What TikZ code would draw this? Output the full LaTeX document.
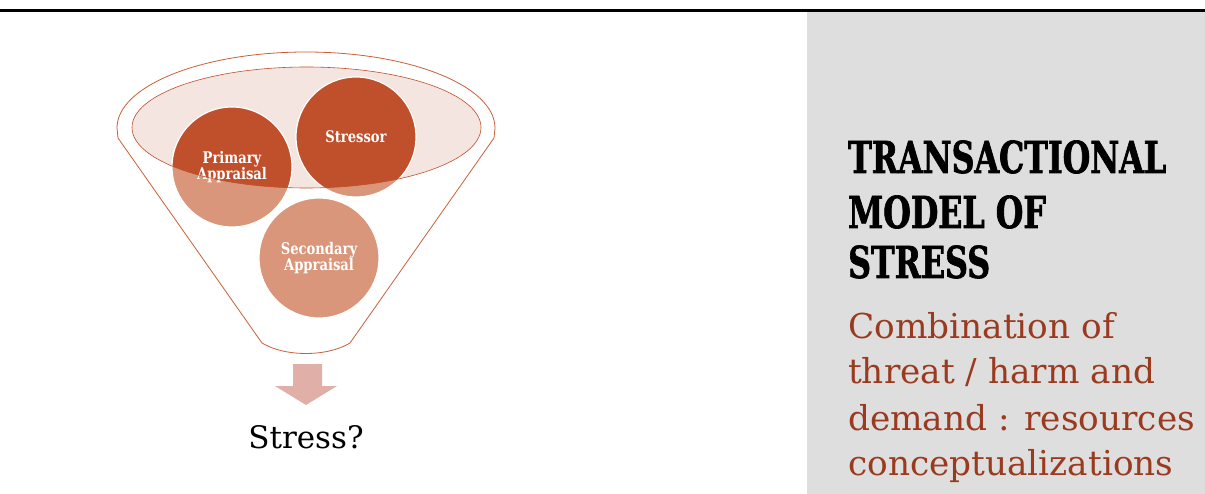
\documentclass[tikz,border=0pt]{standalone}
\usepackage{fontspec}
\setmainfont{DejaVu Serif}
\newfontfamily\titlefont[FakeStretch=0.72,FakeBold=1.5]{DejaVu Serif Bold}
\newfontfamily\bubblefont[FakeStretch=0.82]{DejaVu Serif Bold}
\usetikzlibrary{positioning,calc}
\definecolor{stressdark}{RGB}{192,80,43}
\definecolor{stresslight}{RGB}{217,150,122}
\definecolor{cupfill}{RGB}{245,229,224}
\definecolor{funnelred}{RGB}{200,96,58}
\definecolor{arrowpink}{RGB}{224,176,168}
\definecolor{panelgrey}{RGB}{222,222,222}
\definecolor{bodyred}{RGB}{154,59,31}
\tikzset{
    bubble/.style = {circle, fill=stresslight, draw=white, line width=1.2pt,
        minimum size=120pt, inner sep=0pt, text=white, align=center,
        font=\bubblefont\fontsize{16}{14}\selectfont,
        path picture={\fill[stressdark] (cup) ellipse [x radius=174.5, y radius=60.5];}},
    funnelline/.style = {draw=funnelred, line width=0.8pt},
    titleline/.style = {anchor=base west, inner sep=0pt, font=\titlefont\fontsize{44}{52}\selectfont},
    bodyline/.style = {anchor=base west, inner sep=0pt, text=bodyred, font=\fontsize{34.3}{46}\selectfont}
}
\begin{document}
\begin{tikzpicture}[x=1pt,y=-1pt]
    \useasboundingbox (0,0) rectangle (1205,494);
    \fill[white] (0,0) rectangle (1205,494);
    \draw[line width=3pt] (0,10.5) -- (1205,10.5);
    \fill[panelgrey] (807,12) rectangle (1205,494);
    % funnel
    \draw[funnelline] (118,138) -- (262,343)
        .. controls (285,357) and (327,357) .. (350,343)
        -- (494,138) -- (495,128)
        arc [start angle=0, end angle=-180, x radius=189, y radius=76] -- cycle;
    \coordinate (cup) at (306.5,127.5);
    \fill[cupfill] (cup) ellipse [x radius=174.5, y radius=60.5];
    \node[bubble] (prim) at (232,167) {Primary\\Appraisal};
    \node[bubble] (stressor) at (356,137) {Stressor};
    \node[bubble] (second) at (319,258) {Secondary\\Appraisal};
    \draw[draw=stressdark, line width=0.6pt] (cup) ellipse [x radius=174.5, y radius=60.5];
    % arrow and result
    \fill[arrowpink] (293,364) -- (322,364) -- (322,386) -- (337,386) -- (306,405)
        -- (275,386) -- (293,386) -- cycle;
    \node[anchor=base, inner sep=0pt, font=\fontsize{31}{34}\selectfont] (stress) at (306,448) {Stress?};
    % side panel
    \node[titleline] (t1) at (848,173) {TRANSACTIONAL};
    \node[titleline] (t2) at (848,228) {MODEL OF};
    \node[titleline] (t3) at (848,278) {STRESS};
    \node[bodyline] (b1) at (848,338) {Combination of};
    \node[bodyline] (b2) at (848,383) {threat / harm and};
    \node[bodyline] (b3) at (848,430) {demand : resources};
    \node[bodyline] (b4) at (848,475) {conceptualizations};
\end{tikzpicture}
\end{document}
